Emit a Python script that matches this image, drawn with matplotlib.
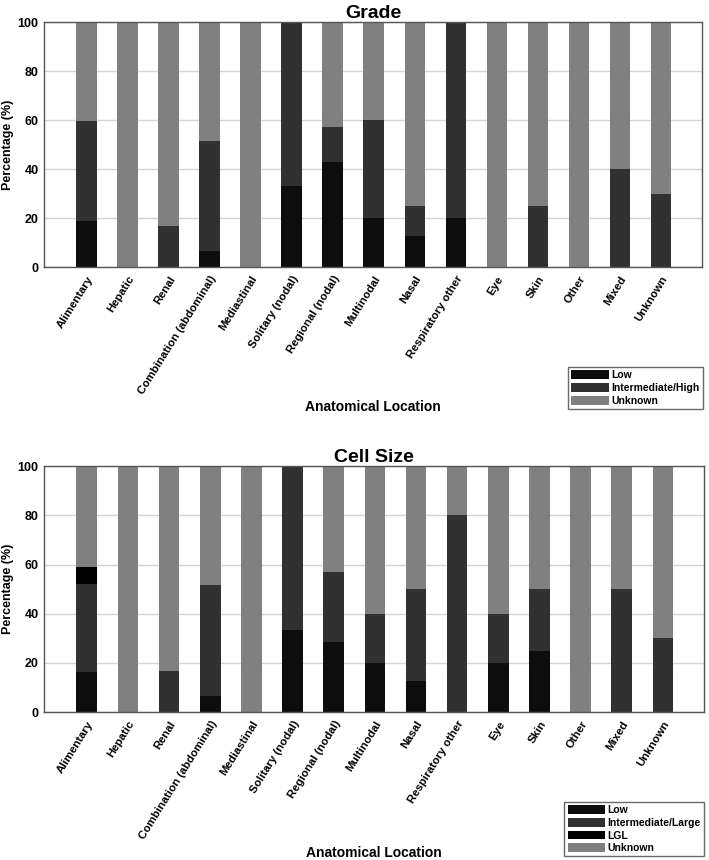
import numpy as np
import matplotlib
matplotlib.use('Agg')
from matplotlib import pyplot as plt

locations = ['Alimentary', 'Hepatic', 'Renal', 'Combination (abdominal)', 'Mediastinal',
             'Solitary (nodal)', 'Regional (nodal)', 'Multinodal', 'Nasal', 'Respiratory other',
             'Eye', 'Skin', 'Other', 'Mixed', 'Unknown']

# Grade (%)
grade_low = [18.9, 0, 0, 6.45, 0, 33.3, 42.9, 20, 12.5, 20, 0, 0, 0, 0, 0]
grade_int_high = [40.6, 0, 16.7, 45.2, 0, 66.7, 14.2, 40, 12.5, 80, 0, 25, 0, 40, 30]

# Cell size (%)
cell_low = [16.2, 0, 0, 6.45, 0, 33.3, 28.6, 20, 12.5, 0, 20, 25, 0, 0, 0]
cell_int_large = [35.7, 0, 16.7, 45.2, 0, 66.7, 28.5, 20, 37.5, 80, 20, 25, 0, 50, 30]
cell_lgl = [7.0, 0, 0, 0, 0, 0, 0, 0, 0, 0, 0, 0, 0, 0, 0]

plt.rcParams['font.family'] = ['Liberation Sans', 'DejaVu Sans']
plt.rcParams['font.weight'] = 'bold'

c_low = '#0d0d0d'
c_int = '#313131'
c_lgl = '#000000'
c_unk = '#808080'

fig = plt.figure(figsize=(7.09, 8.6), dpi=100)
ax1 = fig.add_axes([0.062, 0.6895, 0.928, 0.2845])
ax2 = fig.add_axes([0.062, 0.172, 0.931, 0.286])

x = np.arange(len(locations))
w = 0.5


def style_axes(ax, title):
    ax.set_xlim(-1.04, 15.0)
    ax.set_ylim(0, 100)
    ax.set_yticks([0, 20, 40, 60, 80, 100])
    ax.set_xticks(x)
    ax.set_xticklabels(locations, rotation=58, ha='right', rotation_mode='anchor',
                       fontsize=8.2, fontweight='bold')
    ax.tick_params(axis='both', length=0, labelsize=9, pad=4)
    ax.tick_params(axis='x', labelsize=8.2, pad=5)
    for lab in ax.get_yticklabels():
        lab.set_fontweight('bold')
    ax.grid(True, axis='y', color='#d4d4d4', linewidth=1)
    ax.set_axisbelow(True)
    for sp in ax.spines.values():
        sp.set_color('#555555')
        sp.set_linewidth(1)
    ax.set_title(title, fontsize=14, fontweight='bold', pad=2)
    ax.set_ylabel('Percentage (%)', fontsize=9, fontweight='bold')
    ax.yaxis.set_label_coords(-0.045, 0.5)
    ax.set_xlabel('Anatomical Location', fontsize=10, fontweight='bold')
    ax.xaxis.set_label_coords(0.5, -0.545)


leg_kw = dict(fontsize=7.5, frameon=True, fancybox=False, edgecolor='#444444',
              handlelength=3.6, handleheight=0.95, borderpad=0.3, labelspacing=0.25,
              handletextpad=0.25, borderaxespad=0)

# Grade
g_low = np.array(grade_low)
g_int = np.array(grade_int_high)
g_unk = 100 - g_low - g_int
b1 = ax1.bar(x, g_low, w, color=c_low, label='Low')
b2 = ax1.bar(x, g_int, w, bottom=g_low, color=c_int, label='Intermediate/High')
b3 = ax1.bar(x, g_unk, w, bottom=g_low + g_int, color=c_unk, label='Unknown')
style_axes(ax1, 'Grade')
fig.legend(handles=[b1, b2, b3], loc='upper right', bbox_to_anchor=(0.9915, 0.573), **leg_kw)

# Cell size
c_l = np.array(cell_low)
c_i = np.array(cell_int_large)
c_g = np.array(cell_lgl)
c_u = 100 - c_l - c_i - c_g
d1 = ax2.bar(x, c_l, w, color=c_low, label='Low')
d2 = ax2.bar(x, c_i, w, bottom=c_l, color=c_int, label='Intermediate/Large')
d3 = ax2.bar(x, c_g, w, bottom=c_l + c_i, color=c_lgl, label='LGL')
d4 = ax2.bar(x, c_u, w, bottom=c_l + c_i + c_g, color=c_unk, label='Unknown')
style_axes(ax2, 'Cell Size')
fig.legend(handles=[d1, d2, d3, d4], loc='upper right', bbox_to_anchor=(0.993, 0.0674), **leg_kw)

for leg in fig.legends:
    leg.get_frame().set_linewidth(1)
    for t in leg.get_texts():
        t.set_fontweight('bold')

plt.savefig('out.png', dpi=100)
